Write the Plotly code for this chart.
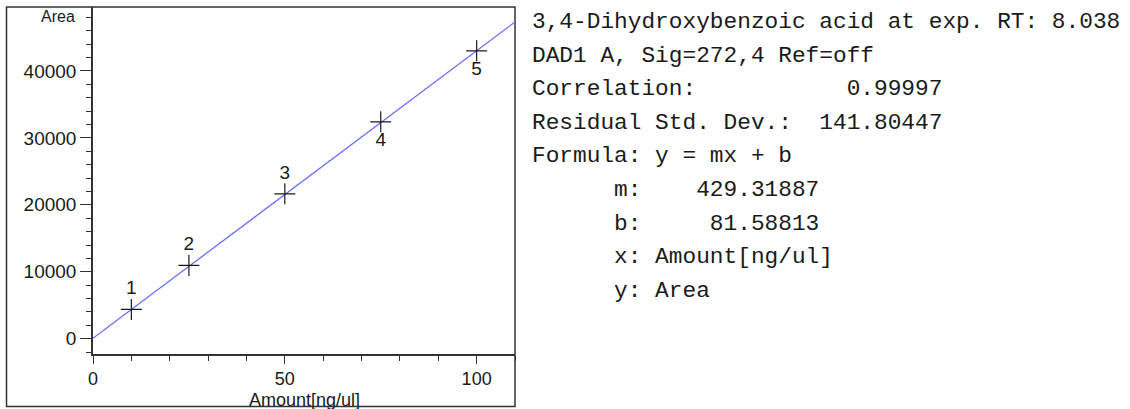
import plotly.graph_objects as go

# ── Calibration data ──
amount = [10, 25, 50, 75, 100]
area = [4380, 10950, 21650, 32400, 43000]
level_labels = ['1', '2', '3', '4', '5']
label_pos = ['top center', 'top center', 'top center', 'bottom center', 'bottom center']

# regression line end points (x range of the plot)
fit_x = [0, 110]
fit_y = [81.58813, 47306.66]

info_lines = [
    '3,4-Dihydroxybenzoic acid at exp. RT: 8.038',
    'DAD1 A, Sig=272,4 Ref=off',
    'Correlation:           0.99997',
    'Residual Std. Dev.:  141.80447',
    'Formula: y = mx + b',
    '      m:    429.31887',
    '      b:     81.58813',
    '      x: Amount[ng/ul]',
    '      y: Area',
]

# ── Style ──
W, H = 1130, 409
PL, PR, PT, PB = 93, 515, 7, 354   # plot area in pixels
INK = '#1a1a1a'
AXIS = '#333333'
FIT = '#6e6eff'
FONT = 'Liberation Sans, Arial, sans-serif'
MONO = 'Liberation Mono, DejaVu Sans Mono, monospace'


def px_x(px):
    return (px - PL) / (PR - PL)


def px_y(py):
    return (PB - py) / (PB - PT)


fig = go.Figure()

fig.add_trace(go.Scatter(
    x=fit_x, y=fit_y, mode='lines',
    line=dict(color=FIT, width=1.3),
    hoverinfo='skip', showlegend=False,
))

fig.add_trace(go.Scatter(
    x=amount, y=area, mode='markers+text',
    marker=dict(symbol='cross-thin', size=15, line=dict(width=1.2, color=INK), color=INK),
    text=level_labels, textposition=label_pos,
    textfont=dict(family=FONT, size=19, color=INK),
    showlegend=False,
))

fig.update_layout(
    width=W, height=H,
    paper_bgcolor='white', plot_bgcolor='white',
    margin=dict(l=PL, r=W - PR, t=PT, b=H - PB, pad=0),
    font=dict(family=FONT, color=INK),
    xaxis=dict(
        range=[0, 110], tickvals=[0, 50, 100], showgrid=False, zeroline=False,
        showline=True, linecolor=AXIS, linewidth=1.5,
        ticks='outside', ticklen=8, tickwidth=1.2, tickcolor=AXIS,
        minor=dict(dtick=10, tick0=0, ticks='outside', ticklen=5, tickwidth=1.2, tickcolor=AXIS, showgrid=False),
        tickfont=dict(family=FONT, size=18, color=INK),
    ),
    yaxis=dict(
        range=[-2280, 49550], tickvals=[0, 10000, 20000, 30000, 40000], tickformat='d',
        showgrid=False, zeroline=False,
        showline=True, linecolor=AXIS, linewidth=1.5,
        ticks='outside', ticklen=11, tickwidth=1.2, tickcolor=AXIS,
        minor=dict(dtick=2000, tick0=0, ticks='outside', ticklen=5, tickwidth=1.2, tickcolor=AXIS, showgrid=False),
        tickfont=dict(family=FONT, size=19, color=INK),
    ),
    shapes=[dict(
        type='rect', xref='paper', yref='paper',
        x0=px_x(6.5), x1=px_x(515), y0=px_y(406.5), y1=px_y(7),
        line=dict(color=AXIS, width=1.5), layer='below',
    )],
)

annotations = [
    dict(text='Area', xref='paper', yref='paper', x=px_x(77), y=px_y(17),
         xanchor='right', yanchor='middle', showarrow=False,
         font=dict(family=FONT, size=16, color=INK)),
    dict(text='Amount[ng/ul]', xref='paper', yref='paper', x=0.5, y=px_y(400),
         xanchor='center', yanchor='middle', showarrow=False,
         font=dict(family=FONT, size=18, color=INK)),
]
for i, line in enumerate(info_lines):
    annotations.append(dict(
        text=line.replace(' ', '\u00a0'), xref='paper', yref='paper',
        x=px_x(531), y=px_y(22 + 33.6 * i),
        xanchor='left', yanchor='middle', align='left', showarrow=False, borderpad=0,
        font=dict(family=MONO, size=22.8, color=INK),
    ))
fig.update_layout(annotations=annotations)

fig.write_html('out.html', config={'displayModeBar': False},
               post_script="document.body.style.margin='0';")
